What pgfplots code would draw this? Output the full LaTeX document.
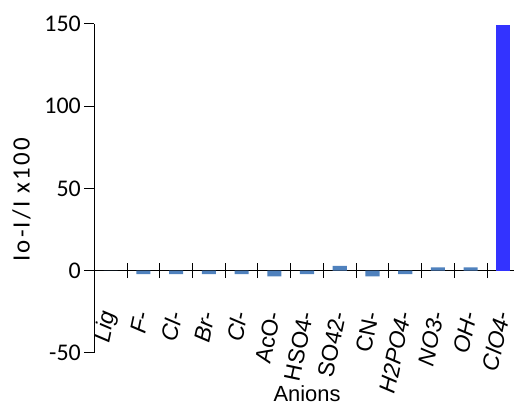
\documentclass[border=0pt]{standalone}
\usepackage{pgfplots}
\pgfplotsset{compat=1.18}
\usepackage{fontspec}
\setmainfont{Liberation Sans}
\newfontfamily\calfont{Carlito}
\newfontfamily\calspaced[LetterSpace=9]{Carlito}
\definecolor{steel}{HTML}{4F81BD}
\definecolor{brightblue}{HTML}{3333FF}
\begin{document}
\begin{tikzpicture}
\begin{axis}[
  scale only axis,
  width=425.5bp, height=329bp,
  xmin=0, xmax=13, ymin=-50, ymax=150,
  axis x line*=middle, axis y line*=left,
  axis line style={line width=1pt, black},
  every tick/.style={line width=1pt, black},
  major tick length=10bp,
  minor tick length=15bp,
  ytick={-50,0,50,100,150},
  ytick align=outside,
  yticklabel style={font=\calfont\fontsize{24}{28}\selectfont},
  /pgf/number format/assume math mode=true,
  xtick={0.5,1.5,2.5,3.5,4.5,5.5,6.5,7.5,8.5,9.5,10.5,11.5,12.5},
  xticklabels={\textit{Lig},\textit{F-},\textit{Cl-},\textit{Br-},\textit{Cl-},AcO-,HSO4-,SO42-,CN-,\textit{H2PO4-},\textit{NO3-},\textit{OH-},\textit{ClO4-}},
  major x tick style={draw=none},
  minor xtick={1,2,3,4,5,6,7,8,9,10,11,12},
  xtick align=center,
  xticklabel style={font=\fontsize{23}{26}\selectfont, yshift=-36bp, xshift=-1bp, rotate=78, anchor=east, inner sep=0pt},
  ylabel={Io-I/I x100},
  every axis y label/.style={at={(axis description cs:-0.171,0.465)}, rotate=90, anchor=center, font=\calspaced\fontsize{25}{28}\selectfont},
  xlabel={Anions},
  every axis x label/.style={at={(axis description cs:0.5,-0.124)}, anchor=center, font=\fontsize{22}{24}\selectfont},
  clip=false,
]
\addplot[ybar, bar width=0.43, bar shift=0pt, fill=steel, draw=none] coordinates {
 (0.5,0) (1.5,-2) (2.5,-2) (3.5,-2) (4.5,-2) (5.5,-3.5) (6.5,-2) (7.5,3) (8.5,-3.5) (9.5,-2) (10.5,2) (11.5,2)};
\addplot[ybar, bar width=0.43, bar shift=0pt, fill=brightblue, draw=none] coordinates {(12.5,149.4)};
\coordinate (bl) at (rel axis cs:-0.2216,-0.1611);
\coordinate (tr) at (rel axis cs:0.9864,1.0729);
\end{axis}
\pgfresetboundingbox
\path (bl) rectangle (tr);
\end{tikzpicture}
\end{document}
